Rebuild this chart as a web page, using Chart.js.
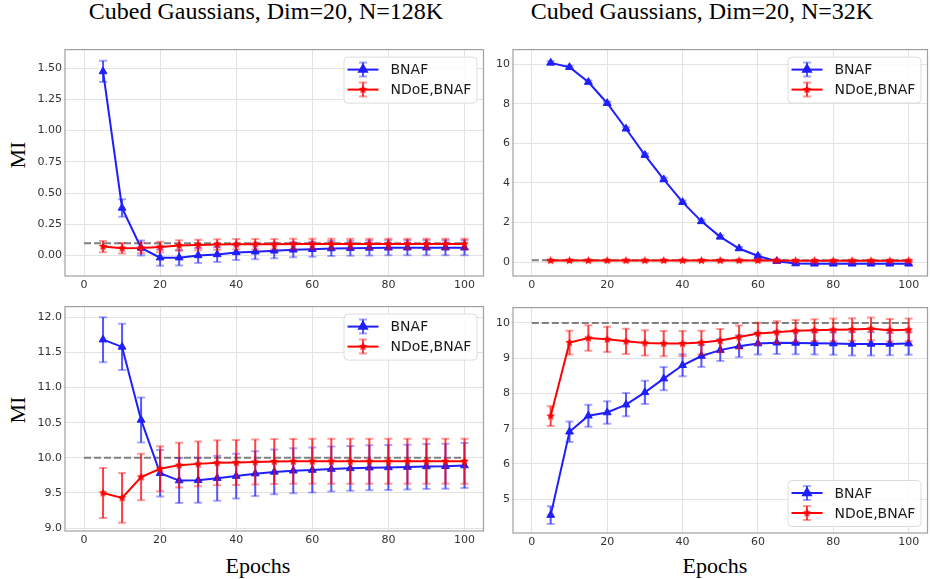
<!DOCTYPE html>
<html>
<head>
<meta charset="utf-8">
<script src="https://cdn.jsdelivr.net/npm/chart.js@4.4.1/dist/chart.umd.min.js"></script>
<style>
  body { margin: 0; width: 930px; height: 579px; overflow: hidden; background: #fff; position: relative; }
  canvas.panel { position: absolute; }
  .lbl { position: absolute; font-family: "Liberation Serif", "Times New Roman", serif; color: #000; white-space: nowrap; text-align: center; }
  .title { font-size: 24px; line-height: 28px; width: 420px; }
  .xlab { font-size: 22px; line-height: 25px; width: 120px; }
  .ylab { font-size: 22px; line-height: 25px; transform: translate(-50%, -50%) rotate(-90deg); }
</style>
</head>
<body>
<div class="lbl title" style="left:56px; top:-3px;">Cubed Gaussians, Dim=20, N=128K</div>
<div class="lbl title" style="left:492px; top:-3px;">Cubed Gaussians, Dim=20, N=32K</div>
<div class="lbl ylab" style="left:17px; top:155px;">MI</div>
<div class="lbl ylab" style="left:17px; top:410px;">MI</div>
<div class="lbl xlab" style="left:198px; top:553px;">Epochs</div>
<div class="lbl xlab" style="left:655px; top:553px;">Epochs</div>

<canvas id="tl" class="panel" width="490" height="260" style="left:0px; top:40px;"></canvas>
<canvas id="tr" class="panel" width="444" height="260" style="left:490px; top:40px;"></canvas>
<canvas id="bl" class="panel" width="490" height="258" style="left:0px; top:297px;"></canvas>
<canvas id="br" class="panel" width="444" height="259" style="left:490px; top:298px;"></canvas>

<script>
// ---- data ----
const epochs = [5, 10, 15, 20, 25, 30, 35, 40, 45, 50, 55, 60, 65, 70, 75, 80, 85, 90, 95, 100];
const xTicks = [0, 20, 40, 60, 80, 100];
const seriesNames = ['BNAF', 'NDoE,BNAF'];

// top left: Dim=20, N=128K
const tlBnaf    = [1.474, 0.38, 0.06, -0.018, -0.018, 0.0, 0.008, 0.024, 0.03, 0.037, 0.045, 0.05, 0.055, 0.058, 0.06, 0.061, 0.062, 0.062, 0.062, 0.062];
const tlBnafErr = [0.085, 0.07, 0.06, 0.065, 0.062, 0.06, 0.06, 0.06, 0.06, 0.06, 0.06, 0.06, 0.06, 0.06, 0.06, 0.06, 0.06, 0.06, 0.06, 0.06];
const tlNdoe    = [0.071, 0.058, 0.06, 0.068, 0.079, 0.084, 0.087, 0.089, 0.09, 0.09, 0.091, 0.091, 0.092, 0.092, 0.092, 0.092, 0.092, 0.092, 0.092, 0.092];
const tlNdoeErr = [0.045, 0.042, 0.042, 0.042, 0.042, 0.042, 0.042, 0.042, 0.042, 0.042, 0.042, 0.042, 0.042, 0.042, 0.042, 0.042, 0.042, 0.042, 0.042, 0.042];
const tlTrueMI  = 0.097;
const tlYTicks  = [0, 0.25, 0.5, 0.75, 1.0, 1.25, 1.5];

// top right: Dim=20, N=32K
const trBnaf    = [10.07, 9.85, 9.10, 8.03, 6.74, 5.41, 4.18, 3.03, 2.06, 1.28, 0.69, 0.31, 0.05, -0.07, -0.08, -0.08, -0.08, -0.08, -0.08, -0.08];
const trBnafErr = [0.08, 0.08, 0.08, 0.08, 0.08, 0.08, 0.08, 0.08, 0.08, 0.08, 0.08, 0.08, 0.08, 0.08, 0.08, 0.08, 0.08, 0.08, 0.08, 0.08];
const trNdoe    = [0.08, 0.08, 0.08, 0.08, 0.08, 0.08, 0.08, 0.08, 0.08, 0.08, 0.08, 0.08, 0.08, 0.07, 0.07, 0.07, 0.07, 0.07, 0.07, 0.07];
const trNdoeErr = [0.05, 0.05, 0.05, 0.05, 0.05, 0.05, 0.05, 0.05, 0.05, 0.05, 0.05, 0.05, 0.05, 0.05, 0.05, 0.05, 0.05, 0.05, 0.05, 0.05];
const trTrueMI  = 0.1;
const trYTicks  = [0, 2, 4, 6, 8, 10];

// bottom left
const blBnaf    = [11.683, 11.58, 10.54, 9.78, 9.676, 9.68, 9.71, 9.74, 9.775, 9.80, 9.816, 9.826, 9.84, 9.85, 9.86, 9.863, 9.868, 9.877, 9.88, 9.89];
const blBnafErr = [0.32, 0.33, 0.32, 0.33, 0.32, 0.32, 0.32, 0.32, 0.32, 0.32, 0.32, 0.32, 0.32, 0.32, 0.32, 0.32, 0.32, 0.32, 0.32, 0.32];
const blNdoe    = [9.50, 9.43, 9.727, 9.844, 9.896, 9.914, 9.93, 9.933, 9.94, 9.947, 9.95, 9.952, 9.952, 9.952, 9.952, 9.952, 9.952, 9.952, 9.952, 9.952];
const blNdoeErr = [0.357, 0.355, 0.33, 0.32, 0.32, 0.32, 0.32, 0.32, 0.32, 0.32, 0.32, 0.32, 0.32, 0.32, 0.32, 0.32, 0.32, 0.32, 0.32, 0.32];
const blTrueMI  = 10.0;
const blYTicks  = [9.0, 9.5, 10.0, 10.5, 11.0, 11.5, 12.0];

// bottom right
const brBnaf    = [4.545, 6.911, 7.366, 7.458, 7.68, 8.03, 8.42, 8.80, 9.063, 9.23, 9.34, 9.416, 9.44, 9.434, 9.425, 9.416, 9.406, 9.406, 9.406, 9.416];
const brBnafErr = [0.25, 0.29, 0.31, 0.32, 0.33, 0.33, 0.33, 0.31, 0.31, 0.31, 0.31, 0.31, 0.32, 0.32, 0.32, 0.32, 0.33, 0.33, 0.32, 0.32];
const brNdoe    = [7.356, 9.443, 9.573, 9.536, 9.48, 9.434, 9.416, 9.416, 9.443, 9.50, 9.60, 9.70, 9.74, 9.777, 9.796, 9.805, 9.814, 9.833, 9.796, 9.805];
const brNdoeErr = [0.28, 0.34, 0.36, 0.36, 0.36, 0.36, 0.36, 0.36, 0.34, 0.33, 0.33, 0.31, 0.31, 0.31, 0.31, 0.32, 0.32, 0.32, 0.32, 0.32];
const brTrueMI  = 10.0;
const brYTicks  = [5, 6, 7, 8, 9, 10];

// ---- styling ----
const BLUE = '#1e1eff';
const RED = '#ff0000';
Chart.defaults.font.family = '"DejaVu Sans", sans-serif';
Chart.defaults.font.size = 11;
Chart.defaults.color = '#333';

function makeStar(color, r) {
    const s = Math.ceil(r * 2) + 2;
    const c = document.createElement('canvas');
    c.width = s; c.height = s;
    const g = c.getContext('2d');
    g.fillStyle = color;
    g.beginPath();
    for (let i = 0; i < 10; i++) {
        const a = -Math.PI / 2 + i * Math.PI / 5;
        const rr = i % 2 ? r * 0.45 : r;
        g.lineTo(s / 2 + rr * Math.cos(a), s / 2 + rr * Math.sin(a));
    }
    g.closePath();
    g.fill();
    return c;
}
const redStar = makeStar(RED, 4.5);

function drawErrBar(ctx, x, yTop, yBot, color) {
    ctx.save();
    ctx.lineWidth = 2;
    ctx.strokeStyle = color;
    ctx.globalAlpha = 0.75;
    ctx.beginPath();
    ctx.moveTo(x, yTop); ctx.lineTo(x, yBot);
    ctx.stroke();
    ctx.globalAlpha = 0.4;
    ctx.beginPath();
    ctx.moveTo(x - 4, yTop); ctx.lineTo(x + 4, yTop);
    ctx.moveTo(x - 4, yBot); ctx.lineTo(x + 4, yBot);
    ctx.stroke();
    ctx.restore();
}

// error bars under each series' own line
const errorBarPlugin = {
    id: 'errorBars',
    beforeDatasetDraw(chart, args) {
        const ds = chart.data.datasets[args.index];
        if (!ds.errors) return;
        const ys = chart.scales.y;
        const ctx = chart.ctx;
        args.meta.data.forEach((pt, i) => {
            const v = ds.data[i].y;
            const e = ds.errors[i];
            drawErrBar(ctx, pt.x, ys.getPixelForValue(v + e), ys.getPixelForValue(v - e), ds.borderColor);
        });
    }
};

// axes box like matplotlib spines
const framePlugin = {
    id: 'frame',
    afterDatasetsDraw(chart) {
        const a = chart.chartArea;
        const ctx = chart.ctx;
        ctx.save();
        ctx.strokeStyle = '#a0a0a0';
        ctx.lineWidth = 1.2;
        ctx.strokeRect(a.left, a.top, a.right - a.left, a.bottom - a.top);
        ctx.restore();
    }
};

// legend box inside the axes
const boxLegendPlugin = {
    id: 'boxLegend',
    afterDraw(chart, args, opts) {
        const a = chart.chartArea;
        const ctx = chart.ctx;
        const w = 133, h = 46;
        const x = a.right - 7 - w;
        const y = opts.loc === 'lower' ? a.bottom - 7 - h : a.top + 7;
        ctx.save();
        ctx.fillStyle = 'rgba(255,255,255,0.85)';
        ctx.strokeStyle = '#dcdcdc';
        ctx.lineWidth = 1;
        ctx.beginPath();
        ctx.roundRect(x + 0.5, y + 0.5, w, h, 4);
        ctx.fill();
        ctx.stroke();
        for (let i = 0; i < 2; i++) {
            const ds = chart.data.datasets[i];
            const cy = y + 13 + 20 * i;
            const mx = x + 19.5;
            drawErrBar(ctx, mx, cy - 7, cy + 7, ds.borderColor);
            ctx.strokeStyle = ds.borderColor;
            ctx.lineWidth = 2;
            ctx.beginPath();
            ctx.moveTo(x + 4, cy); ctx.lineTo(x + 35, cy);
            ctx.stroke();
            ctx.fillStyle = ds.borderColor;
            Chart.helpers.drawPoint(ctx, { pointStyle: ds.pointStyle, radius: ds.pointRadius, rotation: 0, borderWidth: 1 }, mx, cy);
            ctx.fillStyle = '#1a1a1a';
            ctx.font = '14px "DejaVu Sans", sans-serif';
            ctx.textBaseline = 'middle';
            ctx.fillText(ds.label, x + 47, cy + 1);
        }
        ctx.restore();
    }
};

function toPoints(vals) {
    return epochs.map((e, i) => ({ x: e, y: vals[i] }));
}

function makePanel(id, p) {
    return new Chart(document.getElementById(id), {
        type: 'line',
        data: {
            datasets: [
                {
                    label: seriesNames[0],
                    data: toPoints(p.bnaf),
                    errors: p.bnafErr,
                    borderColor: BLUE,
                    backgroundColor: BLUE,
                    borderWidth: 2,
                    pointStyle: 'triangle',
                    pointRadius: 4.5,
                    pointBorderWidth: 1,
                    order: 2
                },
                {
                    label: seriesNames[1],
                    data: toPoints(p.ndoe),
                    errors: p.ndoeErr,
                    borderColor: RED,
                    backgroundColor: RED,
                    borderWidth: 2,
                    pointStyle: redStar,
                    pointRadius: 4.5,
                    order: 1
                },
                {
                    label: 'true MI',
                    data: [{ x: 0, y: p.trueMI }, { x: 100, y: p.trueMI }],
                    borderColor: '#808080',
                    borderDash: [7, 3],
                    borderWidth: 2,
                    pointRadius: 0,
                    order: 3
                }
            ]
        },
        options: {
            responsive: false,
            animation: false,
            layout: { padding: { top: p.padTop, right: p.padRight, left: 0, bottom: 0 } },
            plugins: {
                legend: { display: false },
                tooltip: { enabled: false },
                boxLegend: { loc: p.legendLoc }
            },
            scales: {
                x: {
                    type: 'linear',
                    min: -5,
                    max: 105,
                    afterBuildTicks: s => { s.ticks = xTicks.map(v => ({ value: v })); },
                    afterFit: s => { s.height = 24; },
                    grid: { color: '#e3e3e3', drawTicks: false },
                    border: { display: false },
                    ticks: { padding: 3, maxRotation: 0, callback: v => String(v) }
                },
                y: {
                    type: 'linear',
                    min: p.yMin,
                    max: p.yMax,
                    afterBuildTicks: s => { s.ticks = p.yTicks.map(v => ({ value: v })); },
                    afterFit: s => { s.width = p.yWidth; },
                    grid: { color: '#e3e3e3', drawTicks: false },
                    border: { display: false },
                    ticks: { padding: 3, callback: v => v.toFixed(p.dec) }
                }
            }
        },
        plugins: [errorBarPlugin, framePlugin, boxLegendPlugin]
    });
}

makePanel('tl', { bnaf: tlBnaf, bnafErr: tlBnafErr, ndoe: tlNdoe, ndoeErr: tlNdoeErr, trueMI: tlTrueMI,
    yTicks: tlYTicks, dec: 2, yMin: -0.165, yMax: 1.649, yWidth: 65, padTop: 5, padRight: 6, legendLoc: 'upper' });
makePanel('tr', { bnaf: trBnaf, bnafErr: trBnafErr, ndoe: trNdoe, ndoeErr: trNdoeErr, trueMI: trTrueMI,
    yTicks: trYTicks, dec: 0, yMin: -0.70, yMax: 10.74, yWidth: 23, padTop: 4, padRight: 2, legendLoc: 'upper' });
makePanel('bl', { bnaf: blBnaf, bnafErr: blBnafErr, ndoe: blNdoe, ndoeErr: blNdoeErr, trueMI: blTrueMI,
    yTicks: blYTicks, dec: 1, yMin: 8.958, yMax: 12.154, yWidth: 65, padTop: 5, padRight: 6, legendLoc: 'upper' });
makePanel('br', { bnaf: brBnaf, bnafErr: brBnafErr, ndoe: brNdoe, ndoeErr: brNdoeErr, trueMI: brTrueMI,
    yTicks: brYTicks, dec: 0, yMin: 4.037, yMax: 10.437, yWidth: 23, padTop: 5, padRight: 2, legendLoc: 'lower' });
</script>
</body>
</html>
